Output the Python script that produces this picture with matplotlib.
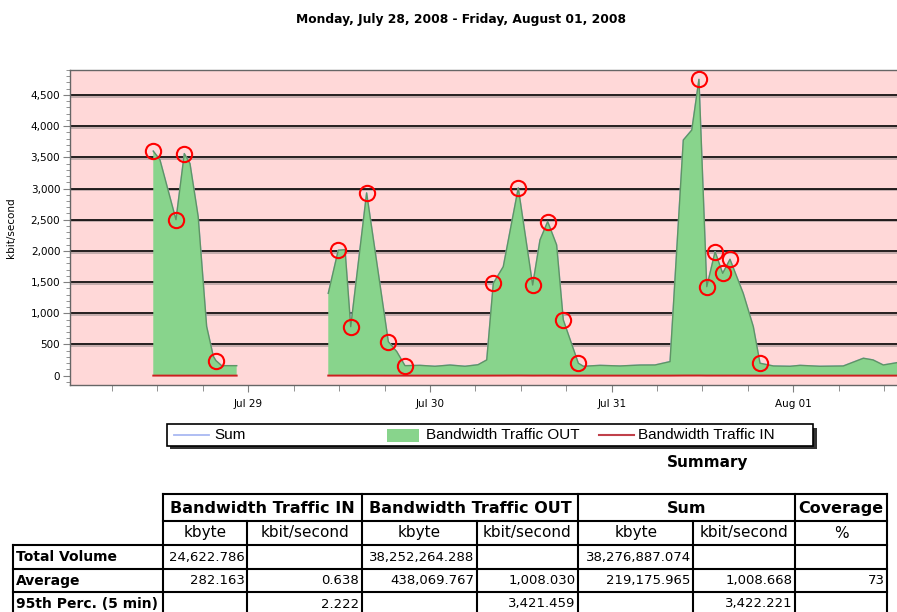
import numpy as np
import matplotlib
matplotlib.use('Agg')
import matplotlib.pyplot as plt
import matplotlib.dates as mdates
import matplotlib.patheffects as pe
from matplotlib.patches import Rectangle
from matplotlib.lines import Line2D
from matplotlib.ticker import MultipleLocator, FuncFormatter

plt.rcParams['font.family'] = ['DejaVu Sans']

# sample times, hours after Mon 2008-07-28 00:00 (nan value = no data)
hours = [11.45, 12.33, 14.45, 15.55, 16.30, 17.39, 18.50, 19.38, 19.73, 20.49, 22.47,
         28.0,
         34.57, 35.89, 36.78, 37.53, 39.64, 42.50, 43.61, 44.70, 46.68, 48.66,
         50.65, 52.63, 54.35, 55.50, 56.37, 57.69, 59.67, 61.57, 62.54, 63.55,
         64.74, 65.61, 67.60, 68.26, 70.46, 73.10, 75.75, 77.73, 79.71, 81.47,
         82.58, 83.54, 84.56, 85.66, 86.67, 87.64, 89.39, 90.72, 91.60, 93.36,
         95.56, 96.88, 99.53, 102.60, 105.25, 106.53, 107.89, 109.70, 112.5]

# Bandwidth Traffic OUT, kbit/second
out_kbps = [3600, 3460, 2500, 3560, 3400, 2550, 790, 310, 240, 160, 160,
            np.nan,
            1320, 2010, 2020, 785, 2930, 545, 385, 160, 165, 150,
            170, 150, 175, 252, 1480, 1747, 3010, 1453, 2175, 2470,
            2095, 893, 199, 150, 165, 155, 170, 171, 225, 3777,
            3937, 4750, 1426, 1987, 1641, 1865, 1320, 785, 199, 155,
            150, 165, 150, 155, 279, 252, 171, 208, 190]

# Bandwidth Traffic IN, kbit/second
in_kbps = [0.6, 0.7, 0.5, 0.6, 0.8, 0.6, 0.5, 0.4, 0.5, 0.4, 0.4,
           np.nan,
           0.9, 1.2, 1.1, 0.7, 1.4, 0.6, 0.5, 0.4, 0.4, 0.4,
           0.4, 0.4, 0.4, 0.5, 1.0, 1.3, 2.2, 0.9, 1.2, 1.5,
           1.1, 0.7, 0.4, 0.4, 0.4, 0.4, 0.4, 0.4, 0.5, 1.9,
           2.0, 2.2, 0.9, 1.1, 1.0, 1.1, 0.9, 0.6, 0.4, 0.4,
           0.4, 0.4, 0.4, 0.4, 0.5, 0.5, 0.4, 0.4, 0.4]

# highlighted samples (hours)
circle_hours = [11.45, 14.45, 15.55, 19.73, 35.89, 37.53, 39.64, 42.50, 44.70,
                56.37, 59.67, 61.57, 63.55, 65.61, 67.60,
                83.54, 84.56, 85.66, 86.67, 87.64, 91.60]

day_ticks = ['2008-07-29', '2008-07-30', '2008-07-31', '2008-08-01']

title = 'Monday, July 28, 2008 - Friday, August 01, 2008'

# summary table
group_headers = ['Bandwidth Traffic IN', 'Bandwidth Traffic OUT', 'Sum', 'Coverage']
sub_headers = ['kbyte', 'kbit/second', 'kbyte', 'kbit/second', 'kbyte', 'kbit/second', '%']
row_names = ['Total Volume', 'Average', '95th Perc. (5 min)']
total_volume = ['24,622.786', '', '38,252,264.288', '', '38,276,887.074', '', '']
average = ['282.163', '0.638', '438,069.767', '1,008.030', '219,175.965', '1,008.668', '73']
perc95 = ['', '2.222', '', '3,421.459', '', '3,422.221', '']

# ---------------------------------------------------------------
start = np.datetime64('2008-07-28T00:00')
t = start + (np.array(hours) * 60).round().astype('timedelta64[m]')
out_v = np.array(out_kbps, dtype=float)
in_v = np.array(in_kbps, dtype=float)
sum_v = out_v + in_v
idx = [hours.index(h) for h in circle_hours]

W, H = 897, 612
fig = plt.figure(figsize=(W / 100, H / 100), dpi=100)
fig.patch.set_facecolor('white')

# chart area (runs past the right edge of the image)
ax = fig.add_axes([70 / W, 1 - 385 / H, (975 - 70) / W, 315 / H])
ax.set_facecolor('#ffd8d8')
ax.set_xlim(start + np.timedelta64(27, 'm'), np.datetime64('2008-08-02T00:00'))
ax.set_ylim(-150, 4900)

for g in range(500, 5000, 500):
    ax.axhline(g, color='black', lw=1.2, zorder=1,
               path_effects=[pe.SimpleLineShadow(offset=(0, -1.2), shadow_color='#666666', alpha=0.45),
                             pe.Normal()])

ax.plot(t, sum_v, color='#a9b9f2', lw=1, zorder=1.5)
ax.fill_between(t, 0, out_v, facecolor='#88d48c', edgecolor='none', zorder=2)
ax.plot(t, out_v, color='#5f9464', lw=1.0, zorder=2.5)
ax.plot(t, in_v, color='#cc2020', lw=1.4, zorder=3)
ax.plot(t[idx], out_v[idx], 'o', ms=11, mfc='none', mec='#ff0000', mew=1.5, zorder=4)

ax.set_xticks([mdates.date2num(np.datetime64(d)) for d in day_ticks])
ax.xaxis.set_minor_locator(mdates.HourLocator(byhour=[6, 12, 18]))
ax.xaxis.set_major_formatter(mdates.DateFormatter('%b %d'))
ax.yaxis.set_major_locator(MultipleLocator(500))
ax.yaxis.set_minor_locator(MultipleLocator(100))
ax.yaxis.set_major_formatter(FuncFormatter(lambda v, p: f'{v:,.0f}'))
ax.tick_params(axis='x', which='major', length=5, color='#808080', labelsize=7.5, pad=5)
ax.tick_params(axis='x', which='minor', length=4, color='#808080')
ax.tick_params(axis='y', which='major', length=5, color='#808080', labelsize=7.5, pad=2)
ax.tick_params(axis='y', which='minor', length=3, color='#808080')
for s in ax.spines.values():
    s.set_color('#666666')
    s.set_linewidth(1)
ax.set_ylabel('kbit/second', fontsize=7.5)
ax.yaxis.set_label_coords((16 - 70) / 905, 0.5)

# overlay in pixel coordinates for title, legend and summary table
ov = fig.add_axes([0, 0, 1, 1])
ov.set_xlim(0, W)
ov.set_ylim(H, 0)
ov.axis('off')
ov.patch.set_visible(False)

ov.text(461, 19, title, ha='center', va='center', fontsize=8.8, fontweight='bold')

# legend
ov.add_patch(Rectangle((170, 427.5), 646.5, 21.5, facecolor='#333333', edgecolor='none'))
ov.add_patch(Rectangle((166.7, 424.3), 646.5, 21.5, facecolor='white', edgecolor='black', lw=1.2))
ly = 435.3
lfont = dict(family=['Liberation Sans', 'DejaVu Sans'], fontsize=11, va='center')
ov.add_line(Line2D([174, 209], [ly, ly], color='#a9b9f2', lw=1.3))
ov.text(214, ly, 'Sum', **lfont)
ov.add_patch(Rectangle((387, 428.5), 32, 13.5, facecolor='#88d48c', edgecolor='none'))
ov.text(426, ly, 'Bandwidth Traffic OUT', **lfont)
ov.add_line(Line2D([599, 634], [ly, ly], color='#c0404a', lw=1.5))
ov.text(638, ly, 'Bandwidth Traffic IN', **lfont)

ov.text(708, 463, 'Summary', ha='center', va='center', fontsize=11, fontweight='bold')

# table grid
cols = [12.7, 162.7, 247.3, 361.7, 476.7, 578.3, 693.3, 795, 887.3]
rows = [494.3, 521, 545, 569, 592, 616]
lk = dict(color='black', lw=1.5)
ov.add_line(Line2D([cols[1], cols[-1]], [rows[0], rows[0]], **lk))
ov.add_line(Line2D([cols[1], cols[-1]], [rows[1], rows[1]], **lk))
for r in rows[2:]:
    ov.add_line(Line2D([cols[0], cols[-1]], [r, r], **lk))
for c in [cols[1], cols[3], cols[5], cols[7], cols[8]]:
    ov.add_line(Line2D([c, c], [rows[0], rows[-1]], **lk))
for c in [cols[2], cols[4], cols[6]]:
    ov.add_line(Line2D([c, c], [rows[1], rows[-1]], **lk))
ov.add_line(Line2D([cols[0], cols[0]], [rows[2], rows[-1]], **lk))

group_edges = [(cols[1], cols[3]), (cols[3], cols[5]), (cols[5], cols[7]), (cols[7], cols[8])]
for (a, b), txt in zip(group_edges, group_headers):
    ov.text((a + b) / 2, (rows[0] + rows[1]) / 2 + 1, txt, ha='center', va='center',
            fontsize=11.5, fontweight='bold')
for i, txt in enumerate(sub_headers):
    ov.text((cols[i + 1] + cols[i + 2]) / 2, (rows[1] + rows[2]) / 2, txt,
            ha='center', va='center', fontsize=11)

for r, (name, vals) in enumerate(zip(row_names, [total_volume, average, perc95])):
    yc = (rows[r + 2] + rows[r + 3]) / 2
    ov.text(cols[0] + 3, yc, name, ha='left', va='center', fontsize=10, fontweight='bold')
    for i, v in enumerate(vals):
        if v:
            ov.text(cols[i + 2] - 2.5, yc, v, ha='right', va='center', fontsize=9.5)

fig.savefig('out.png', dpi=100)
